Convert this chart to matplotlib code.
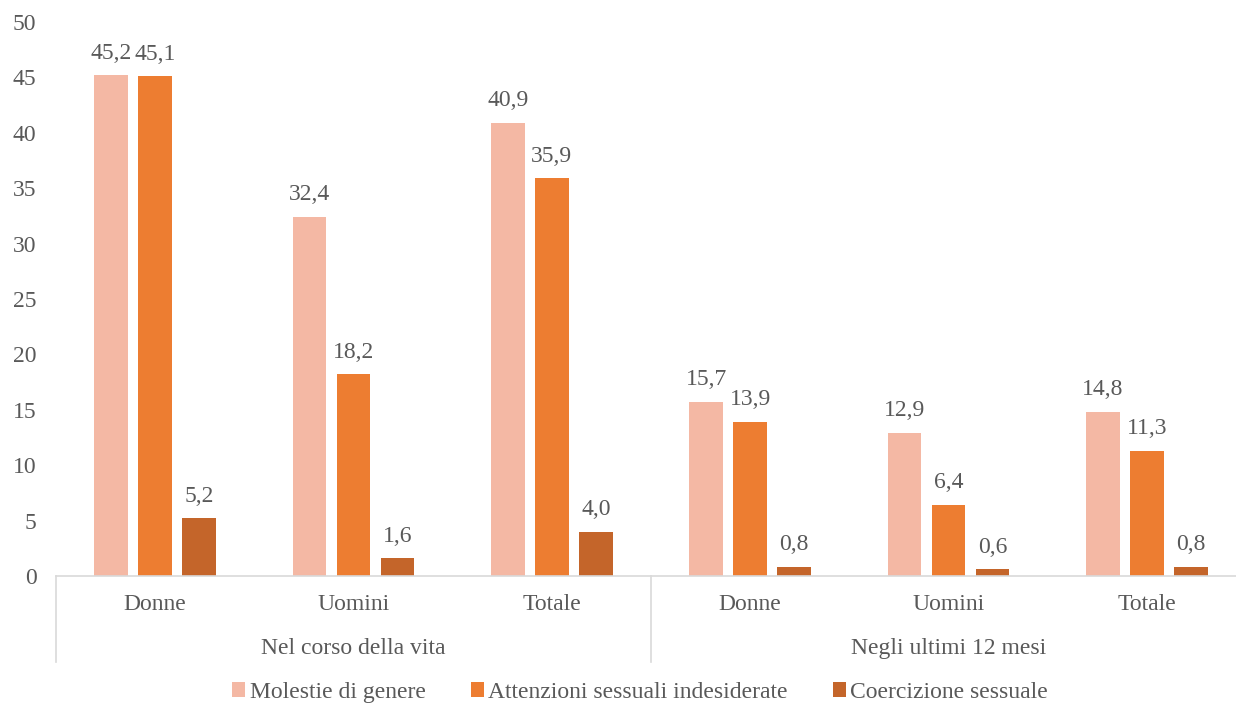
import numpy as np
import matplotlib.pyplot as plt
from matplotlib.patches import Patch

plt.rcParams['font.family'] = ['Liberation Serif', 'DejaVu Serif']

# Survey data: percentages per group and period
periods = ['Nel corso della vita', 'Negli ultimi 12 mesi']
groups = ['Donne', 'Uomini', 'Totale']
series = ['Molestie di genere', 'Attenzioni sessuali indesiderate', 'Coercizione sessuale']
molestie = [45.2, 32.4, 40.9, 15.7, 12.9, 14.8]
attenzioni = [45.1, 18.2, 35.9, 13.9, 6.4, 11.3]
coercizione = [5.2, 1.6, 4.0, 0.8, 0.6, 0.8]

colors = ['#F4B8A4', '#ED7D31', '#C4652A']
text_col = '#595959'
line_col = '#D9D9D9'
fs = 17

fig = plt.figure(figsize=(12.36, 7.05), dpi=100)
ax = fig.add_axes([0.0453, 0.183, 0.9628, 0.7858])

x = np.arange(len(molestie))
width = 0.171
offsets = [-0.222, 0.0, 0.222]

for vals, off, col in zip([molestie, attenzioni, coercizione], offsets, colors):
    bars = ax.bar(x + off, vals, width, color=col)
    for b, v in zip(bars, vals):
        ax.annotate(f'{v:.1f}'.replace('.', ','),
                    (b.get_x() + b.get_width() / 2, v),
                    xytext=(0, 12), textcoords='offset points',
                    ha='center', va='baseline', fontsize=fs, color=text_col)

ax.set_xlim(-0.5, len(molestie) - 0.5)
ax.set_ylim(0, 50)
ax.set_yticks(np.arange(0, 51, 5))
ax.tick_params(axis='y', length=0, pad=14, labelsize=fs, labelcolor=text_col)
ax.set_xticks([])

for s in ['top', 'right', 'left']:
    ax.spines[s].set_visible(False)
ax.spines['bottom'].set_color(line_col)
ax.spines['bottom'].set_linewidth(1.2)

# two-level category axis
trans = ax.get_xaxis_transform()
for i in x:
    ax.text(i, -0.052, groups[i % 3], transform=trans, ha='center', va='center',
            fontsize=fs, color=text_col)
for j, p in enumerate(periods):
    ax.text(3 * j + 1, -0.130, p, transform=trans, ha='center', va='center',
            fontsize=fs, color=text_col)
for sx in [-0.5, 2.5, 5.5]:
    ax.plot([sx, sx], [0, -0.155], transform=trans, color=line_col,
            linewidth=1.2, clip_on=False)

handles = [Patch(facecolor=c, label=s) for c, s in zip(colors, series)]
fig.legend(handles=handles, loc='center', bbox_to_anchor=(0.518, 0.018), ncol=3,
           frameon=False, fontsize=fs, labelcolor=text_col,
           handlelength=0.55, handleheight=0.55, handletextpad=0.2,
           columnspacing=1.9)

fig.savefig('out.png', dpi=100)
